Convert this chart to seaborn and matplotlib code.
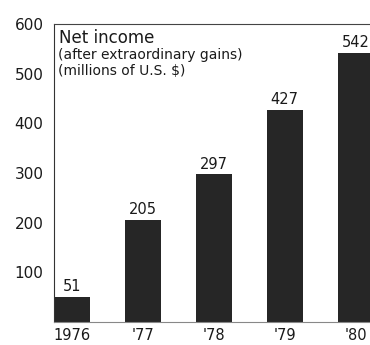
import matplotlib
matplotlib.use("Agg")
import matplotlib.pyplot as plt
import seaborn as sns
import pandas as pd

years = ["1976", "'77", "'78", "'79", "'80"]
net_income = [51, 205, 297, 427, 542]
y_ticks = [100, 200, 300, 400, 500, 600]

sns.set_style("white")
plt.rcParams["font.family"] = ["DejaVu Sans"]

df = pd.DataFrame({"year": years, "income": net_income})

W, H = 370, 345
fig = plt.figure(figsize=(W / 100, H / 100), dpi=100)
ax = fig.add_axes([54 / W, (H - 322) / H, 1 - 54 / W, (322 - 24) / H])

sns.barplot(data=df, x="year", y="income", color="#262626", width=0.5,
            saturation=1, ax=ax, edgecolor="none")

ax.set_xlim(-0.25, 4.2)
ax.set_ylim(0, 600)
ax.set_yticks(y_ticks)
ax.set_yticklabels([str(t) for t in y_ticks])
ax.set_xlabel("")
ax.set_ylabel("")
ax.tick_params(axis="both", length=0, colors="#1a1a1a")
ax.tick_params(axis="y", pad=7.5, labelsize=11)
ax.tick_params(axis="x", pad=4.5, labelsize=10.5)

for side in ["left", "top", "bottom"]:
    ax.spines[side].set_visible(True)
    ax.spines[side].set_linewidth(0.8)
ax.spines["left"].set_color("#333333")
ax.spines["top"].set_color("#444444")
ax.spines["bottom"].set_color("#888888")
ax.spines["right"].set_visible(False)

for i, v in enumerate(net_income):
    ax.text(i, v + 6, str(v), ha="center", va="bottom", fontsize=10.5,
            color="#1a1a1a")

fig.text(59 / W, 1 - 43 / H, "Net income", ha="left", va="baseline",
         fontsize=12, color="#1a1a1a")
fig.text(58 / W, 1 - 59 / H, "(after extraordinary gains)", ha="left",
         va="baseline", fontsize=10, color="#1a1a1a")
fig.text(58 / W, 1 - 75 / H, "(millions of U.S. $)", ha="left",
         va="baseline", fontsize=10, color="#1a1a1a")

fig.savefig("out.png", dpi=100)
